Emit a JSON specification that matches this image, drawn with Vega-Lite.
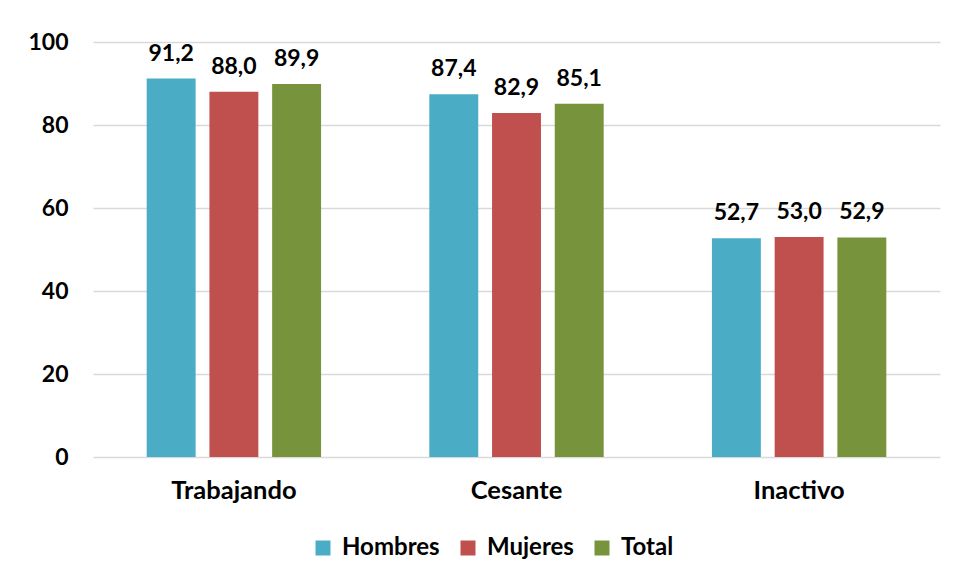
{
  "$schema": "https://vega.github.io/schema/vega-lite/v6.json",
  "autosize": "none",
  "width": 847,
  "height": 415,
  "padding": {"left": 93, "top": 42, "right": 16, "bottom": 124},
  "background": "white",
  "config": {"view": {"stroke": null}},
  "data": {
    "values": [
      {"estado": "Trabajando", "sexo": "Hombres", "valor": 91.2, "etiqueta": "91,2"},
      {"estado": "Trabajando", "sexo": "Mujeres", "valor": 88.0, "etiqueta": "88,0"},
      {"estado": "Trabajando", "sexo": "Total", "valor": 89.9, "etiqueta": "89,9"},
      {"estado": "Cesante", "sexo": "Hombres", "valor": 87.4, "etiqueta": "87,4"},
      {"estado": "Cesante", "sexo": "Mujeres", "valor": 82.9, "etiqueta": "82,9"},
      {"estado": "Cesante", "sexo": "Total", "valor": 85.1, "etiqueta": "85,1"},
      {"estado": "Inactivo", "sexo": "Hombres", "valor": 52.7, "etiqueta": "52,7"},
      {"estado": "Inactivo", "sexo": "Mujeres", "valor": 53.0, "etiqueta": "53,0"},
      {"estado": "Inactivo", "sexo": "Total", "valor": 52.9, "etiqueta": "52,9"}
    ]
  },
  "encoding": {
    "x": {
      "field": "estado", "type": "nominal", "sort": ["Trabajando", "Cesante", "Inactivo"],
      "scale": {"paddingInner": 0.383, "paddingOuter": 0.19},
      "axis": {"title": null, "labelAngle": 0, "ticks": false, "domain": false, "labelPadding": 21,
               "labelFont": "Lato", "labelFontSize": 25.5, "labelFontWeight": "bold", "labelColor": "#000000"}
    },
    "xOffset": {"field": "sexo", "type": "nominal", "sort": ["Hombres", "Mujeres", "Total"],
                "scale": {"paddingInner": 0.22, "paddingOuter": 0}},
    "y": {
      "field": "valor", "type": "quantitative",
      "scale": {"domain": [0, 100], "nice": false},
      "axis": {"title": null, "values": [0, 20, 40, 60, 80, 100], "ticks": false, "domain": false,
               "labelPadding": 25, "labelFont": "Lato", "labelFontSize": 23, "labelFontWeight": "bold",
               "labelColor": "#000000", "gridColor": "#d9d9d9", "gridWidth": 1.5}
    }
  },
  "layer": [
    {
      "mark": {"type": "bar"},
      "encoding": {
        "color": {
          "field": "sexo", "type": "nominal", "sort": ["Hombres", "Mujeres", "Total"],
          "scale": {"domain": ["Hombres", "Mujeres", "Total"], "range": ["#4BACC6", "#C0504D", "#77933C"]},
          "legend": {"title": null, "orient": "none", "legendX": 218, "legendY": 494,
                     "direction": "horizontal", "symbolType": "square",
                     "symbolSize": 225, "symbolStrokeWidth": 0, "labelFont": "Lato", "labelFontSize": 24,
                     "labelFontWeight": "bold", "labelColor": "#000000", "columnPadding": 16, "labelOffset": 7}
        }
      }
    },
    {
      "mark": {"type": "text", "baseline": "bottom", "dy": -13, "font": "Lato", "fontSize": 23,
               "fontWeight": "bold", "color": "#000000"},
      "encoding": {"text": {"field": "etiqueta"}}
    }
  ]
}
